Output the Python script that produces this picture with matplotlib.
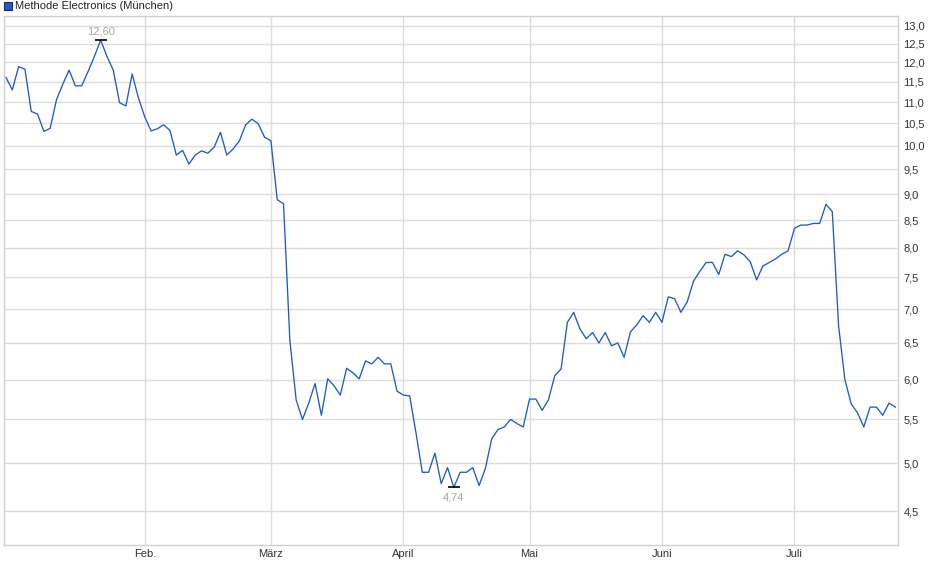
import numpy as np
import matplotlib
matplotlib.use("Agg")
import matplotlib.pyplot as plt
from matplotlib.ticker import FixedLocator, NullLocator, FixedFormatter

plt.rcParams['font.family'] = ['Liberation Sans', 'DejaVu Sans']

# closing prices per trading day, one list per month (EUR, Muenchen)
jan = [11.61, 11.30, 11.89, 11.82, 10.78, 10.72, 10.32, 10.39, 11.06, 11.44, 11.80,
       11.40, 11.40, 11.76, 12.15, 12.60, 12.16, 11.80, 10.99, 10.91, 11.70, 11.10]
feb = [10.65, 10.33, 10.38, 10.47, 10.34, 9.80, 9.90, 9.61, 9.80, 9.89,
       9.84, 9.97, 10.30, 9.80, 9.93, 10.11, 10.47, 10.60, 10.49, 10.19]
mar = [10.11, 8.89, 8.81, 6.54, 5.74, 5.50, 5.70, 5.95, 5.55, 6.01, 5.92,
       5.80, 6.15, 6.09, 6.01, 6.25, 6.21, 6.30, 6.21, 6.21, 5.85]
apr = [5.80, 5.79, 5.34, 4.90, 4.90, 5.11, 4.78, 4.95, 4.74, 4.90,
       4.90, 4.95, 4.76, 4.94, 5.27, 5.38, 5.41, 5.50, 5.45, 5.41]
may = [5.75, 5.75, 5.61, 5.74, 6.05, 6.14, 6.80, 6.95, 6.70, 6.56, 6.65,
       6.50, 6.65, 6.46, 6.50, 6.30, 6.66, 6.76, 6.90, 6.80, 6.95]
jun = [6.80, 7.19, 7.16, 6.95, 7.11, 7.44, 7.60, 7.75, 7.75, 7.55, 7.89,
       7.85, 7.95, 7.88, 7.76, 7.46, 7.69, 7.75, 7.81, 7.89, 7.95]
jul = [8.35, 8.41, 8.41, 8.44, 8.44, 8.80, 8.66, 6.75, 6.00, 5.69, 5.58,
       5.41, 5.65, 5.65, 5.55, 5.70, 5.65]

months = [jan, feb, mar, apr, may, jun, jul]
month_labels = ["Feb.", "März", "April", "Mai", "Juni", "Juli"]
y_ticks = [4.5, 5.0, 5.5, 6.0, 6.5, 7.0, 7.5, 8.0, 8.5, 9.0, 9.5,
           10.0, 10.5, 11.0, 11.5, 12.0, 12.5, 13.0]
title = "Methode Electronics (München)"

prices = np.concatenate(months)
idx = np.arange(len(prices))
month_starts = np.cumsum([len(m) for m in months])[:-1]

fig = plt.figure(figsize=(9.4, 5.79), dpi=100)
ax = fig.add_axes([4 / 940, 34 / 579, 894 / 940, 529 / 579])

ax.plot(idx, prices, color='#1f5bc6', lw=0.95, zorder=3)

ax.set_yscale('log')
ax.set_ylim(4.18, 13.28)
ax.set_xlim(-0.32, 141.42)

ax.yaxis.set_major_locator(FixedLocator(y_ticks))
ax.yaxis.set_minor_locator(NullLocator())
ax.yaxis.set_major_formatter(FixedFormatter([f"{t:.1f}".replace('.', ',') for t in y_ticks]))
ax.yaxis.tick_right()
ax.tick_params(axis='y', length=0, pad=4, labelsize=8, labelcolor='#333333')

ax.set_xticks(month_starts)
ax.set_xticklabels(month_labels)
ax.tick_params(axis='x', length=0, pad=3, labelsize=8, labelcolor='#333333')

ax.grid(True, color='#dcdcdc', lw=1.0)
ax.set_axisbelow(True)
for s in ax.spines.values():
    s.set_color('#d0d0d0')
    s.set_linewidth(1.0)

# high / low markers
hi = int(np.argmax(prices))
lo = int(np.argmin(prices))
ax.plot([hi], [prices[hi]], marker='_', ms=8, mew=1.2, color='black', zorder=4)
ax.plot([lo], [prices[lo]], marker='_', ms=8, mew=1.2, color='black', zorder=4)
ax.annotate(f"{prices[hi]:.2f}".replace('.', ','), (hi, prices[hi]), xytext=(0, 6.5),
            textcoords='offset points', ha='center', va='center', fontsize=8, color='#a8a8a8')
ax.annotate(f"{prices[lo]:.2f}".replace('.', ','), (lo, prices[lo]), xytext=(0, -7.5),
            textcoords='offset points', ha='center', va='center', fontsize=8, color='#a8a0a0')

# legend box at the top left
fig.patches.append(plt.Rectangle((4 / 940, 1 - 10 / 579), 8 / 940, 8 / 579,
                                 transform=fig.transFigure, facecolor='#1f5bc6',
                                 edgecolor='#1a2a60', lw=0.8))
fig.text(15 / 940, 1 - 6 / 579, title, ha='left', va='center', fontsize=8, color='#222222')

fig.savefig("out.png", dpi=100)
